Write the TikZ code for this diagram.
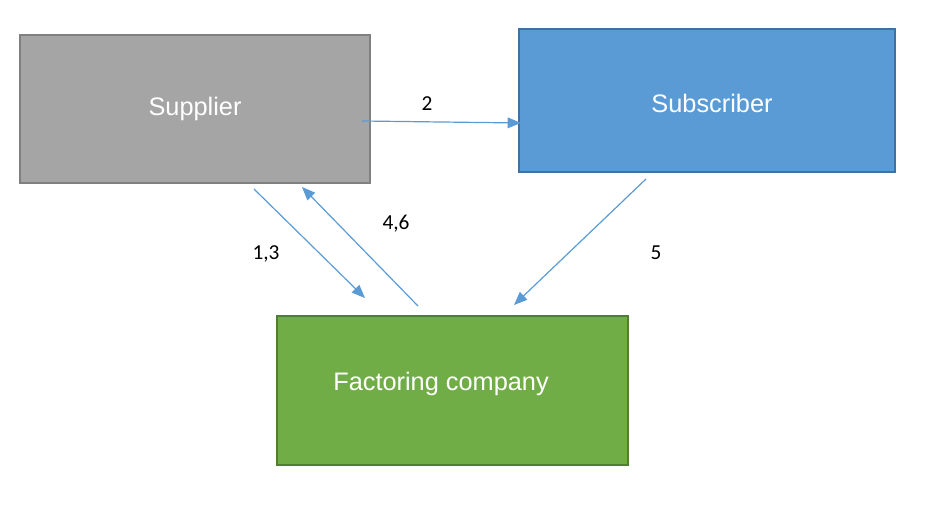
\documentclass[tikz,border=0pt]{standalone}
\usepackage{fontspec}
\setmainfont{Liberation Sans}
\newfontfamily\numfont{Carlito}
\usepackage{xcolor}
\usetikzlibrary{arrows.meta}
\definecolor{boxgray}{RGB}{165,165,165}
\definecolor{edgegray}{RGB}{128,128,128}
\definecolor{boxblue}{RGB}{91,155,213}
\definecolor{edgeblue}{RGB}{65,113,156}
\definecolor{boxgreen}{RGB}{112,173,71}
\definecolor{edgegreen}{RGB}{80,126,50}
\definecolor{arrowblue}{RGB}{91,155,213}

\begin{document}
\begin{tikzpicture}[x=0.75pt,y=0.75pt,yscale=-1,xscale=1,
  party/.style={draw,line width=0.9pt,rectangle,inner sep=0pt,text=white,font=\fontsize{19}{22}\selectfont},
  flow/.style={draw=arrowblue,line width=0.9pt,-{Triangle[length=10pt,width=8pt]}},
  num/.style={inner sep=0.75pt,font=\numfont\fontsize{16}{18}\selectfont}]
\useasboundingbox (0,0) rectangle (945,527);

%Boxes
\node (supplier) [party,fill=boxgray,draw=edgegray,minimum width=262.5pt,minimum height=111pt] at (195,109) {Supplier};
\node (subscriber) [party,fill=boxblue,draw=edgeblue,minimum width=282pt,minimum height=107.25pt] at (707,100.5) {};
\node (factoring) [party,fill=boxgreen,draw=edgegreen,minimum width=263.25pt,minimum height=111.75pt] at (452.5,390.5) {};
% Text Node
\node (subscribertxt) [text=white,font=\fontsize{19}{22}\selectfont] at (712,103) {Subscriber};
% Text Node
\node (factoringtxt) [text=white,font=\fontsize{19}{22}\selectfont] at (441,384) {Factoring company};

%Arrow ends
\coordinate (s2) at (362,121);
\coordinate (e2) at (521,123);
\coordinate (s13) at (254,189);
\coordinate (e13) at (365,298);
\coordinate (s46) at (418,306);
\coordinate (e46) at (302,187);
\coordinate (s5) at (646,179);
\coordinate (e5) at (514,305);

%Arrows
\draw [flow] (s2) -- (e2);
\draw [flow] (s13) -- (e13);
\draw [flow] (s46) -- (e46);
\draw [flow] (s5) -- (e5);

% Text Node
\node (n2) [num] at (427,104) {2};
% Text Node
\node (n13) [num] at (266,254) {1,3};
% Text Node
\node (n46) [num] at (396,224) {4,6};
% Text Node
\node (n5) [num] at (656,253) {5};

\end{tikzpicture}
\end{document}
